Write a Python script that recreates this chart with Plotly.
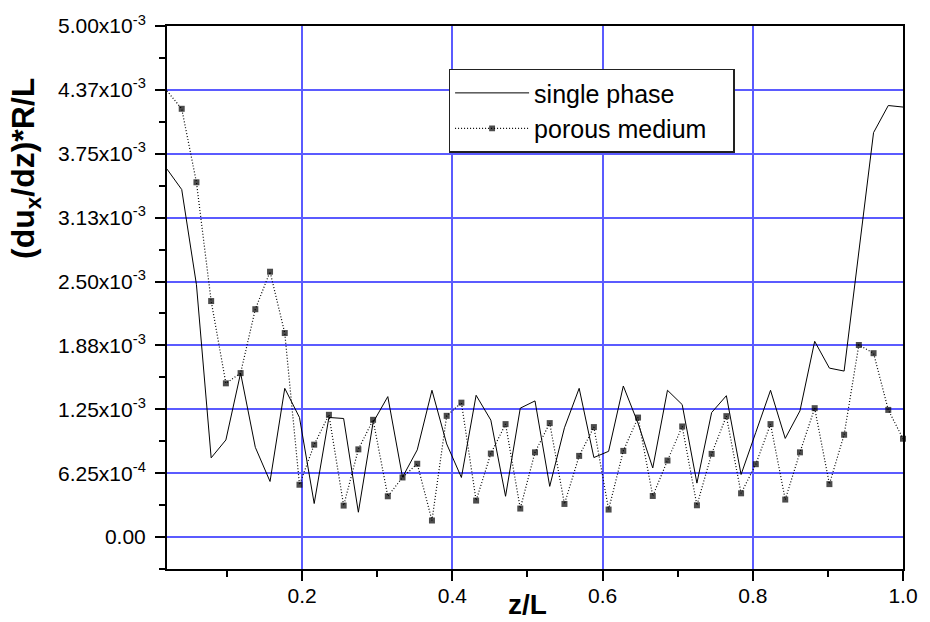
import numpy as np
import plotly.graph_objects as go

# z/L sample positions (51 evenly spaced points from 0.02 to 1.0)
z = list(np.round(np.linspace(0.02, 1.0, 51), 4))

single_phase = [
    3.600e-3, 3.400e-3, 2.469e-3, 0.775e-3, 0.950e-3, 1.604e-3, 0.878e-3, 0.544e-3,
    1.455e-3, 1.170e-3, 0.328e-3, 1.170e-3, 1.160e-3, 0.243e-3, 1.121e-3, 1.374e-3,
    0.586e-3, 0.853e-3, 1.436e-3, 0.911e-3, 0.583e-3, 1.387e-3, 1.144e-3, 0.399e-3,
    1.261e-3, 1.332e-3, 0.496e-3, 1.069e-3, 1.455e-3, 0.778e-3, 0.839e-3, 1.478e-3,
    1.113e-3, 0.676e-3, 1.436e-3, 1.296e-3, 0.528e-3, 1.218e-3, 1.383e-3, 0.612e-3,
    1.024e-3, 1.436e-3, 0.965e-3, 1.235e-3, 1.915e-3, 1.653e-3, 1.624e-3, 2.790e-3,
    3.957e-3, 4.222e-3, 4.207e-3,
]

porous_medium = [
    4.365e-3, 4.190e-3, 3.471e-3, 2.309e-3, 1.504e-3, 1.604e-3, 2.229e-3, 2.596e-3,
    1.996e-3, 0.512e-3, 0.904e-3, 1.196e-3, 0.308e-3, 0.858e-3, 1.147e-3, 0.399e-3,
    0.583e-3, 0.717e-3, 0.162e-3, 1.186e-3, 1.315e-3, 0.357e-3, 0.817e-3, 1.105e-3,
    0.279e-3, 0.829e-3, 1.115e-3, 0.324e-3, 0.794e-3, 1.076e-3, 0.269e-3, 0.843e-3,
    1.169e-3, 0.402e-3, 0.749e-3, 1.082e-3, 0.311e-3, 0.814e-3, 1.183e-3, 0.428e-3,
    0.713e-3, 1.105e-3, 0.367e-3, 0.829e-3, 1.261e-3, 0.518e-3, 1.001e-3, 1.879e-3,
    1.799e-3, 1.244e-3, 0.962e-3,
]

series_names = ["single phase", "porous medium"]

y_tickvals = [0, 6.25e-4, 1.25e-3, 1.875e-3, 2.5e-3, 3.125e-3, 3.75e-3, 4.375e-3, 5.0e-3]
y_ticktext = ["0.00", "6.25x10<sup>-4</sup>", "1.25x10<sup>-3</sup>", "1.88x10<sup>-3</sup>",
              "2.50x10<sup>-3</sup>", "3.13x10<sup>-3</sup>", "3.75x10<sup>-3</sup>",
              "4.37x10<sup>-3</sup>", "5.00x10<sup>-3</sup>"]
y_minor = [-3.125e-4, 3.125e-4, 9.375e-4, 1.5625e-3, 2.1875e-3, 2.8125e-3, 3.4375e-3,
           4.0625e-3, 4.6875e-3]
x_tickvals = [0.2, 0.4, 0.6, 0.8, 1.0]
x_ticktext = ["0.2", "0.4", "0.6", "0.8", "1.0"]
x_minor = [0.1, 0.3, 0.5, 0.7, 0.9]

FONT = "Liberation Sans, Arial, sans-serif"
GRID = "#5b5bff"

fig = go.Figure()
fig.add_trace(go.Scatter(
    x=z, y=single_phase, mode="lines", name=series_names[0],
    line=dict(color="black", width=1), cliponaxis=False,
))
fig.add_trace(go.Scatter(
    x=z, y=porous_medium, mode="lines+markers",
    name=series_names[1] + "\u00a0\u00a0\u00a0",
    line=dict(color="black", width=1.2, dash="1px,2px"),
    marker=dict(symbol="square", size=[0] + [6] * 50, color="black",
                line=dict(width=0)),
    cliponaxis=False,
))

fig.update_layout(
    width=930, height=622,
    margin=dict(l=167, r=18, t=23, b=53),
    paper_bgcolor="white", plot_bgcolor="white",
    font=dict(family=FONT, color="black"),
    showlegend=True,
    legend=dict(
        x=0.3826, y=0.9215, xanchor="left", yanchor="top",
        bgcolor="white", bordercolor="#222", borderwidth=1.5,
        font=dict(size=25, family=FONT), itemwidth=74,
    ),
    xaxis=dict(
        range=[0.02, 1.0], tickmode="array", tickvals=x_tickvals, ticktext=x_ticktext,
        ticks="outside", ticklen=10, tickwidth=2, tickcolor="black",
        tickfont=dict(size=21, family=FONT), ticklabelstandoff=-3,
        showgrid=True, gridcolor=GRID, gridwidth=2,
        showline=True, linecolor="black", linewidth=2, mirror=True,
        zeroline=False,
        minor=dict(tickvals=x_minor, ticks="outside", ticklen=6, tickwidth=2,
                   tickcolor="black", showgrid=False),
    ),
    yaxis=dict(
        range=[-3.125e-4, 5.0e-3], tickmode="array", tickvals=y_tickvals, ticktext=y_ticktext,
        ticks="outside", ticklen=10, tickwidth=2, tickcolor="black",
        tickfont=dict(size=21, family=FONT), ticklabelstandoff=5,
        showgrid=True, gridcolor=GRID, gridwidth=2,
        showline=True, linecolor="black", linewidth=2, mirror=True,
        zeroline=False,
        minor=dict(tickvals=y_minor, ticks="outside", ticklen=6, tickwidth=2,
                   tickcolor="black", showgrid=False),
    ),
    annotations=[
        dict(text="<b>(du<sub>x</sub>/dz)*R/L</b>", xref="paper", yref="paper",
             x=-0.192, y=0.738, xanchor="center", yanchor="middle", textangle=-90,
             showarrow=False, font=dict(size=32, family=FONT)),
        dict(text="<b>z/L</b>", xref="paper", yref="paper",
             x=0.49, y=-0.066, xanchor="center", yanchor="middle",
             showarrow=False, font=dict(size=28, family=FONT)),
    ],
)

fig.write_html("out.html")
